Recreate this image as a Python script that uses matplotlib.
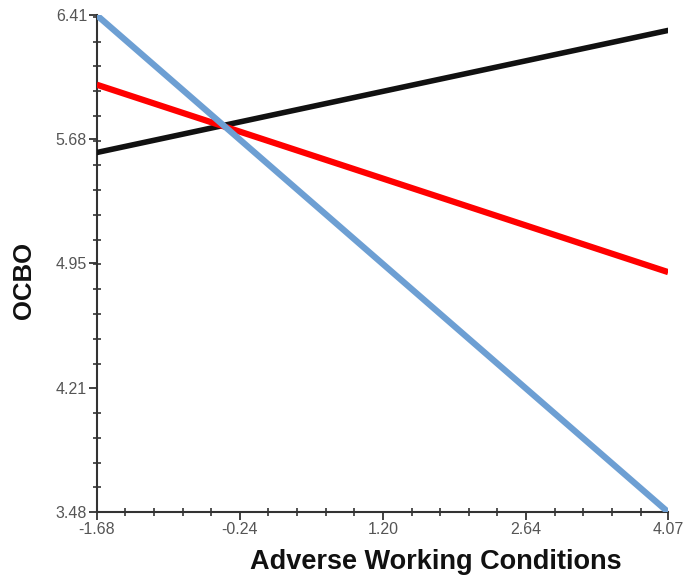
import matplotlib
matplotlib.use("Agg")
import matplotlib.pyplot as plt
from matplotlib.ticker import AutoMinorLocator

x_vals = [-1.68, 4.07]
line_black = [5.60, 6.32]
line_red = [6.00, 4.895]
line_blue = [6.41, 3.48]
x_ticks = [-1.68, -0.24, 1.20, 2.64, 4.07]
x_tick_labels = ["-1.68", "-0.24", "1.20", "2.64", "4.07"]
y_ticks = [3.48, 4.21, 4.95, 5.68, 6.41]
y_tick_labels = ["3.48", "4.21", "4.95", "5.68", "6.41"]
x_label = "Adverse Working Conditions"
y_label = "OCBO"

plt.rcParams['font.family'] = ['Liberation Sans', 'DejaVu Sans']
fig = plt.figure(figsize=(6.86, 5.82), dpi=100)
ax = fig.add_axes([0.141, 0.120, 0.833, 0.854])

ax.plot(x_vals, line_black, color="#111111", lw=4.0, solid_capstyle="round", zorder=3)
ax.plot(x_vals, line_red, color="#ff0000", lw=4.5, solid_capstyle="butt", zorder=3)
ax.plot(x_vals, line_blue, color="#6d9fd3", lw=4.5, solid_capstyle="butt", zorder=4)

ax.set_xlim(-1.68, 4.07)
ax.set_ylim(3.48, 6.41)
for s in ["top", "right"]:
    ax.spines[s].set_visible(False)
for s in ["left", "bottom"]:
    ax.spines[s].set_linewidth(1.5)
    ax.spines[s].set_color("#333333")

ax.set_xticks(x_ticks)
ax.set_xticklabels(x_tick_labels)
ax.set_yticks(y_ticks)
ax.set_yticklabels(y_tick_labels)
ax.xaxis.set_minor_locator(AutoMinorLocator(5))
ax.yaxis.set_minor_locator(AutoMinorLocator(5))
ax.tick_params(axis="both", which="major", direction="out", length=6, width=1.3,
               color="#333333", labelsize=11.5, labelcolor="#555555", pad=1)
ax.tick_params(axis="both", which="minor", direction="inout", length=6, width=1.2,
               color="#333333")

fig.text(0.636, 0.034, x_label, ha="center", va="center", fontsize=19.5, fontweight="bold", color="#111111")
fig.text(0.035, 0.519, y_label, ha="center", va="center", rotation=90, fontsize=18.5, fontweight="bold", color="#111111")

fig.savefig("out.png", dpi=100)
